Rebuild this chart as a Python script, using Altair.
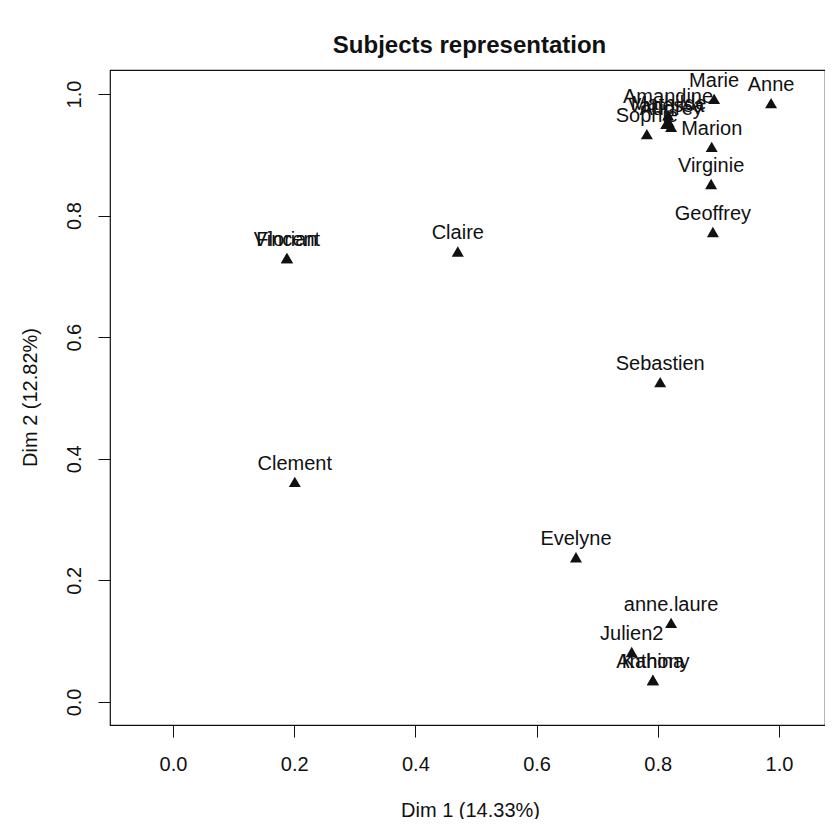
import altair as alt
import pandas as pd

# ---- data ----
names = ["Marie", "Anne", "Amandine", "Vanessa", "Mathilde", "Audrey", "Sophie",
         "Marion", "Virginie", "Geoffrey", "Claire", "Florian", "Vincent",
         "Sebastien", "Clement", "Evelyne", "anne.laure", "Julien2",
         "Anthony", "Kahina"]
dim1 = [0.893, 0.987, 0.817, 0.814, 0.818, 0.822, 0.782,
        0.889, 0.888, 0.891, 0.470, 0.188, 0.188,
        0.804, 0.201, 0.665, 0.822, 0.757,
        0.792, 0.792]
dim2 = [0.992, 0.985, 0.965, 0.951, 0.954, 0.946, 0.934,
        0.913, 0.852, 0.773, 0.741, 0.730, 0.730,
        0.526, 0.362, 0.238, 0.130, 0.082,
        0.036, 0.036]
tick_values = [0.0, 0.2, 0.4, 0.6, 0.8, 1.0]
x_domain = [-0.104, 1.076]
y_domain = [-0.038, 1.0395]

df = pd.DataFrame({"name": names, "x": dim1, "y": dim2})

FONT = "Liberation Sans"
INK = "#111111"

xscale = alt.Scale(domain=x_domain, nice=False, zero=False)
yscale = alt.Scale(domain=y_domain, nice=False, zero=False)

xaxis = alt.Axis(title="Dim 1 (14.33%)", values=tick_values, format=".1f",
                 grid=False, domain=False, tickSize=12, tickColor=INK,
                 tickWidth=1, labelFont=FONT, labelFontSize=20,
                 labelColor=INK, labelPadding=17, labelBaseline="top",
                 titleFont=FONT, titleFontSize=20, titleFontWeight="normal",
                 titleColor=INK, titleX=360, titleY=85,
                 titleBaseline="middle", titleAnchor="middle")
yaxis = alt.Axis(title="Dim 2 (12.82%)", values=tick_values, format=".1f",
                 grid=False, domain=False, tickSize=12, tickColor=INK,
                 tickWidth=1, labelFont=FONT, labelFontSize=20,
                 labelColor=INK, labelAngle=-90, labelAlign="center",
                 labelBaseline="alphabetic", labelPadding=18,
                 titleFont=FONT, titleFontSize=20, titleFontWeight="normal",
                 titleColor=INK, titleX=-80, titleY=327,
                 titleBaseline="middle", titleAlign="center", titleAngle=-90)

base = alt.Chart(df)

points = base.mark_point(shape="triangle-up", filled=True, size=144,
                         color=INK, opacity=1).encode(
    x=alt.X("x:Q", scale=xscale, axis=xaxis),
    y=alt.Y("y:Q", scale=yscale, axis=yaxis),
)

labels = base.mark_text(font=FONT, fontSize=20, color=INK, dy=-18,
                        baseline="middle", align="center").encode(
    x=alt.X("x:Q", scale=xscale),
    y=alt.Y("y:Q", scale=yscale),
    text="name:N",
)

chart = alt.layer(points, labels).properties(
    width=715, height=655,
    title=alt.TitleParams("Subjects representation", font=FONT, fontSize=24,
                          fontWeight="bold", color=INK, anchor="middle",
                          offset=12, dx=2),
    autosize=alt.AutoSizeParams(type="none"),
    padding={"left": 102, "top": 62, "right": 0, "bottom": 94},
).configure_view(stroke=INK, strokeWidth=1.2)

chart.save("out.html", embed_options={"renderer": "svg", "actions": False})
